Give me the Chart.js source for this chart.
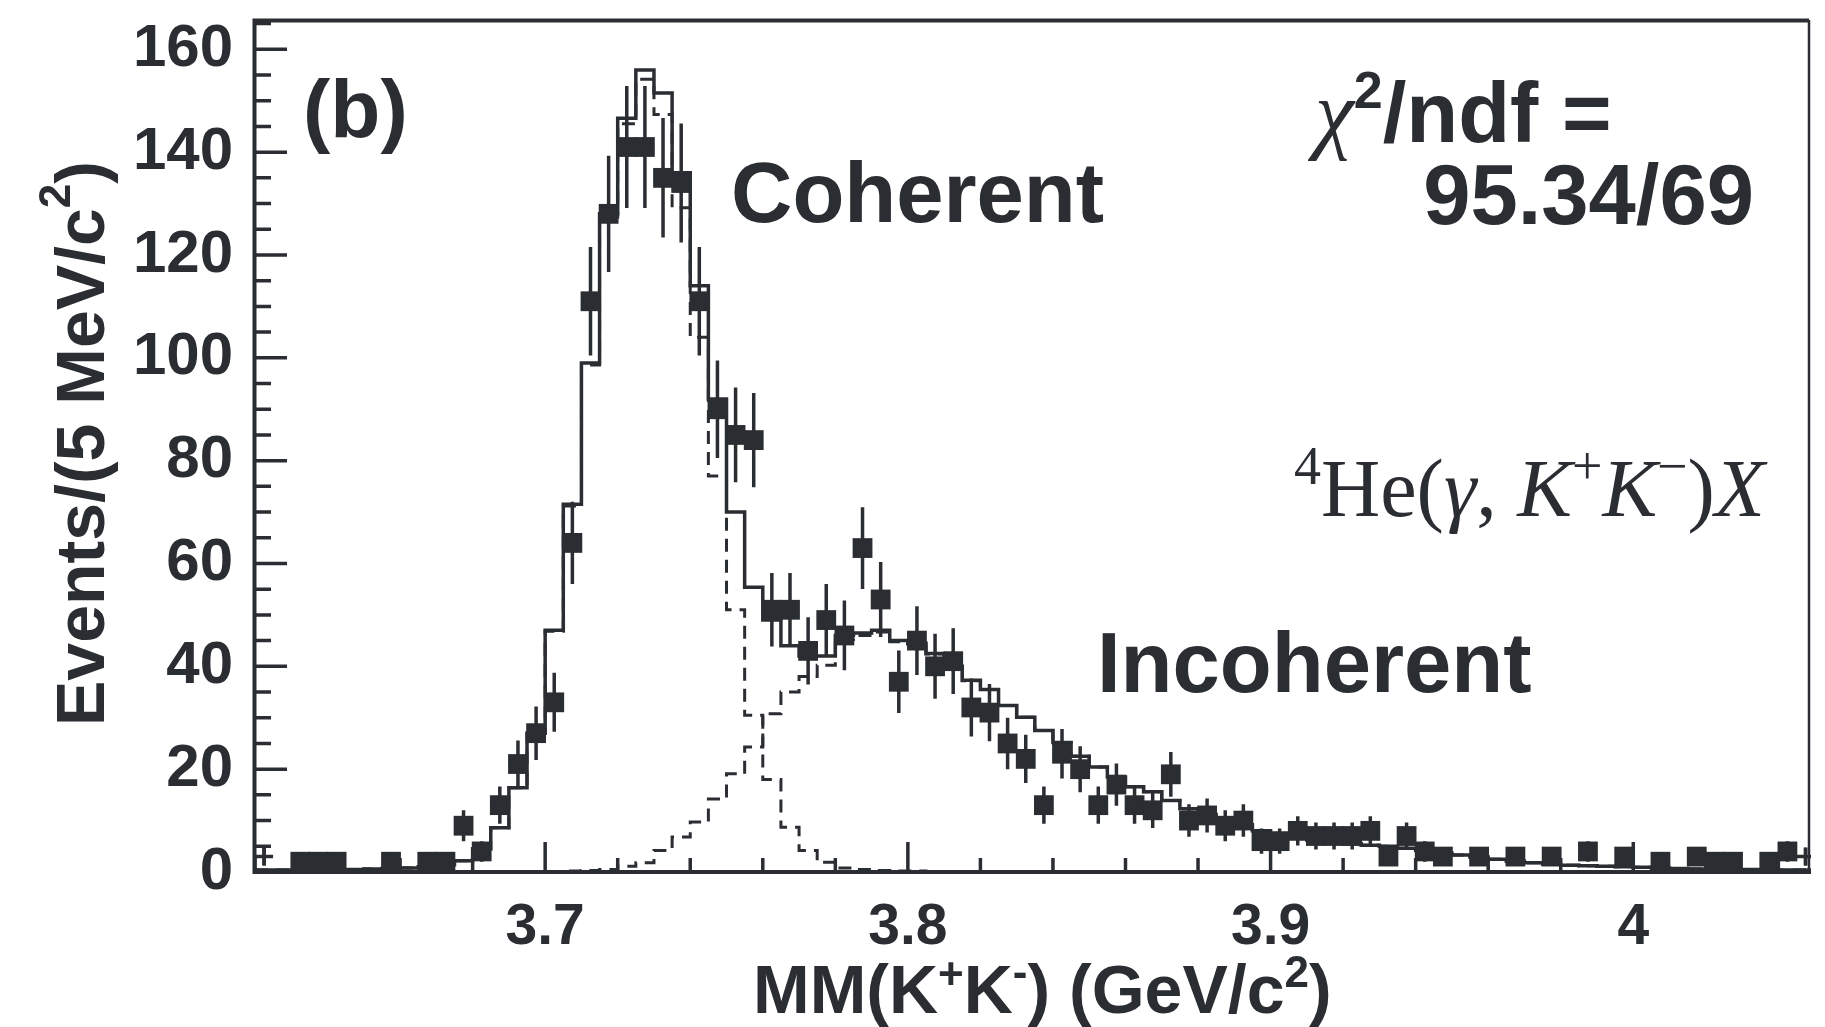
<!DOCTYPE html>
<html>
<head>
<meta charset="utf-8">
<script src="https://cdn.jsdelivr.net/npm/chart.js@4.4.1/dist/chart.umd.min.js"></script>
<style>
  html, body { margin: 0; padding: 0; background: #ffffff; }
  #wrap { width: 1825px; height: 1027px; position: relative; }
  canvas { display: block; }
</style>
</head>
<body>
<div id="wrap"><canvas id="chart" width="1825" height="1027"></canvas></div>
<script>
// ---------------- data ----------------
// lower edges of the 5 MeV/c^2 bins, GeV/c^2
const binLowEdges = [
  3.620,3.625,3.630,3.635,3.640,3.645,3.650,3.655,3.660,3.665,
  3.670,3.675,3.680,3.685,3.690,3.695,3.700,3.705,3.710,3.715,
  3.720,3.725,3.730,3.735,3.740,3.745,3.750,3.755,3.760,3.765,
  3.770,3.775,3.780,3.785,3.790,3.795,3.800,3.805,3.810,3.815,
  3.820,3.825,3.830,3.835,3.840,3.845,3.850,3.855,3.860,3.865,
  3.870,3.875,3.880,3.885,3.890,3.895,3.900,3.905,3.910,3.915,
  3.920,3.925,3.930,3.935,3.940,3.945,3.950,3.955,3.960,3.965,
  3.970,3.975,3.980,3.985,3.990,3.995,4.000,4.005,4.010,4.015,
  4.020,4.025,4.030,4.035,4.040,4.045
];
const binWidth = 0.005;

// measured events per bin
const events = [
  3,0,2,2,2,0,0,2,0,2,
  2,9,4,13,21,27,33,64,111,128,
  141,141,135,134,111,90,85,84,51,51,
  43,49,46,63,53,37,45,40,41,32,
  31,25,22,13,23,20,13,17,13,12,
  19,10,11,9,10,6,6,8,7,7,
  7,8,3,7,4,3,0,3,0,3,
  0,3,0,4,0,3,0,2,0,3,
  2,2,0,2,4,3
];

// total fit (solid histogram)
const fitTotal = [
  0.4,0.4,0.4,0.5,0.5,0.5,0.6,0.7,0.8,1.0,
  1.4,2.2,4.5,8.6,16.4,27,47,71.5,99,128,
  146.6,156,151.5,136,114,92,70,55.4,49,44,
  42,42,46,46.5,47,45,44.5,42.5,40,37.3,
  35.5,32.4,30.1,27.5,25.2,22.5,20.4,18.5,16.6,15.6,
  13.9,12.3,11.2,10.2,9.2,8,7.2,6.6,6.2,5.8,
  5.5,5.2,5.0,4.6,4.2,3.7,3.3,2.9,2.5,2.1,
  1.8,1.5,1.3,1.2,1.1,1.0,0.9,0.8,0.7,0.6,
  0.6,0.5,0.5,0.4,0.4,0.4
];

// coherent component (dashed)
const fitCoherent = [
  0.4,0.4,0.4,0.5,0.5,0.5,0.6,0.7,0.8,1.0,
  1.4,2.2,4.5,8.6,16.4,27,46.8,71.2,98.6,127.4,
  145.5,154.2,147.3,129.2,104,77,51,30.5,18,8.7,
  4.2,1.9,0.8,0.5,0.3,0.2,0.2,0.1,0.1,0.1,
  0,0,0,0,0,0,0,0,0,0,
  0,0,0,0,0,0,0,0,0,0,
  0,0,0,0,0,0,0,0,0,0,
  0,0,0,0,0,0,0,0,0,0,
  0,0,0,0,0,0
];

// incoherent component (dashed)
const fitIncoherent = [
  0,0,0,0,0,0,0,0,0,0,
  0,0,0,0,0,0,0.1,0.2,0.3,0.5,
  1.1,1.8,4.2,6.8,9.7,14.2,19.1,24.3,30.8,35,
  38,40.2,45.2,46,46.7,44.8,44.3,42.4,39.9,37.2,
  35.5,32.4,30.1,27.5,25.2,22.5,20.4,18.5,16.6,15.6,
  13.9,12.3,11.2,10.2,9.2,8,7.2,6.6,6.2,5.8,
  5.5,5.2,5.0,4.6,4.2,3.7,3.3,2.9,2.5,2.1,
  1.8,1.5,1.3,1.2,1.1,1.0,0.9,0.8,0.7,0.6,
  0.6,0.5,0.5,0.4,0.4,0.4
];

// axes
const xRange = [3.62, 4.049];
const yRange = [0, 165.7];
const xMajorStep = 0.1, xMinorStep = 0.02;
const yMajorStep = 20, yMinorStep = 5;

// texts
const yTitle = ['Events/(5 MeV/c', '2', ')'];
const xTitle = ['MM(K', '+', 'K', '-', ') (GeV/c', '2', ')'];
const panelLabel = '(b)';
const coherentLabel = 'Coherent';
const incoherentLabel = 'Incoherent';
const chi2Text = ['χ', '2', '/ndf ='];
const chi2Value = '95.34/69';

// ---------------- drawing ----------------
const INK = '#2a2d32';
const SANS = "'Liberation Sans', Arial, Helvetica, sans-serif";
const SERIF = "'Liberation Serif', 'Times New Roman', serif";

function stepPoints(vals) {
  const pts = binLowEdges.map((x, i) => ({ x: x, y: vals[i] }));
  pts.push({ x: binLowEdges[binLowEdges.length - 1] + binWidth, y: vals[vals.length - 1] });
  return pts;
}
const eventPoints = binLowEdges.map((x, i) => ({ x: x + binWidth / 2, y: events[i] }));
const isEdgeBin = (i) => i === 0 || i === events.length - 1;

function drawRich(ctx, x, y, parts) {
  let cx = x;
  for (const p of parts) {
    ctx.font = p.font;
    ctx.fillText(p.t, cx, y - (p.dy || 0));
    cx += ctx.measureText(p.t).width + (p.kern || 0);
  }
}

const errorBars = {
  id: 'errorBars',
  afterDatasetsDraw(chart) {
    const { ctx, chartArea: a, scales: { x, y } } = chart;
    ctx.save();
    ctx.beginPath();
    ctx.rect(a.left, a.top, a.right - a.left, a.bottom - a.top);
    ctx.clip();
    ctx.strokeStyle = INK;
    ctx.lineWidth = 3.5;
    ctx.beginPath();
    eventPoints.forEach((p) => {
      if (p.y <= 0) return;
      const e = Math.sqrt(p.y);
      const px = x.getPixelForValue(p.x);
      ctx.moveTo(px, y.getPixelForValue(p.y - e));
      ctx.lineTo(px, y.getPixelForValue(p.y + e));
    });
    ctx.stroke();
    ctx.restore();
  }
};

const frameAndText = {
  id: 'frameAndText',
  afterDraw(chart) {
    const { ctx, chartArea: a, scales: { x, y } } = chart;
    ctx.save();
    ctx.strokeStyle = INK;
    ctx.fillStyle = INK;
    // tick marks (inside)
    ctx.lineWidth = 3.5;
    ctx.beginPath();
    for (let k = 0; yRange[0] + k * yMinorStep <= yRange[1] + 1e-9; k++) {
      const v = yRange[0] + k * yMinorStep;
      const py = y.getPixelForValue(v);
      const len = (Math.abs(v / yMajorStep - Math.round(v / yMajorStep)) < 1e-6) ? 32 : 16;
      ctx.moveTo(a.left, py);
      ctx.lineTo(a.left + len, py);
    }
    for (let k = 0; xRange[0] + k * xMinorStep <= xRange[1] + 1e-9; k++) {
      const v = xRange[0] + k * xMinorStep;
      const px = x.getPixelForValue(v);
      const len = (Math.abs(v / xMajorStep - Math.round(v / xMajorStep)) < 1e-6) ? 30 : 14;
      ctx.moveTo(px, a.bottom);
      ctx.lineTo(px, a.bottom - len);
    }
    ctx.stroke();
    // frame
    ctx.lineWidth = 4;
    ctx.beginPath();
    ctx.moveTo(a.right - 2, a.top + 0.5);
    ctx.lineTo(a.left - 0.5, a.top + 0.5);
    ctx.lineTo(a.left - 0.5, a.bottom);
    ctx.lineTo(a.right, a.bottom);
    ctx.stroke();
    ctx.lineWidth = 2.5;
    ctx.beginPath();
    ctx.moveTo(a.right - 2, a.top);
    ctx.lineTo(a.right - 2, a.bottom);
    ctx.stroke();

    // texts
    ctx.textBaseline = 'alphabetic';
    ctx.textAlign = 'left';
    ctx.font = `bold 82px ${SANS}`;
    ctx.fillText(panelLabel, 303, 137);
    ctx.font = `bold 85px ${SANS}`;
    ctx.fillText(coherentLabel, 731, 222);
    ctx.fillText(incoherentLabel, 1097, 692);
    drawRich(ctx, 1315, 142, [
      { t: chi2Text[0], font: `italic 88px ${SERIF}` },
      { t: chi2Text[1], font: `bold 52px ${SANS}`, dy: 34 },
      { t: chi2Text[2], font: `bold 85px ${SANS}` }
    ]);
    ctx.textAlign = 'right';
    ctx.font = `bold 85px ${SANS}`;
    ctx.fillText(chi2Value, 1754, 224);
    ctx.textAlign = 'left';

    // reaction label
    drawRich(ctx, 1294, 516, [
      { t: '4', font: `54px ${SERIF}`, dy: 32 },
      { t: 'He(', font: `82px ${SERIF}` },
      { t: 'γ', font: `italic 82px ${SERIF}` },
      { t: ', ', font: `82px ${SERIF}` },
      { t: 'K', font: `italic 82px ${SERIF}` },
      { t: '+', font: `54px ${SERIF}`, dy: 32 },
      { t: 'K', font: `italic 82px ${SERIF}` },
      { t: '−', font: `54px ${SERIF}`, dy: 32 },
      { t: ')', font: `82px ${SERIF}` },
      { t: 'X', font: `italic 82px ${SERIF}` }
    ]);

    // axis titles
    const big = `bold 68px ${SANS}`, sup = `bold 44px ${SANS}`;
    drawRich(ctx, 753, 1013, [
      { t: xTitle[0], font: big },
      { t: xTitle[1], font: sup, dy: 24 },
      { t: xTitle[2], font: big },
      { t: xTitle[3], font: sup, dy: 26 },
      { t: xTitle[4], font: big },
      { t: xTitle[5], font: sup, dy: 26 },
      { t: xTitle[6], font: big }
    ]);
    ctx.save();
    ctx.translate(104, 726);
    ctx.rotate(-Math.PI / 2);
    drawRich(ctx, 0, 0, [
      { t: yTitle[0], font: big },
      { t: yTitle[1], font: sup, dy: 34 },
      { t: yTitle[2], font: big }
    ]);
    ctx.restore();
    ctx.restore();
  }
};

const stepStyle = {
  showLine: true, stepped: 'before', pointRadius: 0, borderColor: INK,
  backgroundColor: 'transparent', fill: false, tension: 0
};

new Chart(document.getElementById('chart'), {
  type: 'scatter',
  data: {
    datasets: [
      Object.assign({ label: 'Incoherent', data: stepPoints(fitIncoherent), borderWidth: 3, borderDash: [13, 8], order: 4 }, stepStyle),
      Object.assign({ label: 'Coherent', data: stepPoints(fitCoherent), borderWidth: 3, borderDash: [13, 8], order: 3 }, stepStyle),
      Object.assign({ label: 'Fit', data: stepPoints(fitTotal), borderWidth: 3.5, order: 2 }, stepStyle),
      {
        label: 'Data', data: eventPoints, showLine: false, order: 1,
        pointStyle: (c) => isEdgeBin(c.dataIndex) ? 'cross' : 'rect',
        pointRadius: (c) => (c.raw && c.raw.y > 0) ? (isEdgeBin(c.dataIndex) ? 9 : 14) : 0,
        pointBorderWidth: (c) => isEdgeBin(c.dataIndex) ? 3.5 : 0,
        pointBackgroundColor: INK, pointBorderColor: INK
      }
    ]
  },
  options: {
    responsive: false, animation: false, devicePixelRatio: 1, events: [],
    layout: { padding: { top: 20, right: 0, left: 0, bottom: 0 } },
    plugins: { legend: { display: false }, tooltip: { enabled: false } },
    scales: {
      x: {
        type: 'linear', min: xRange[0], max: xRange[1],
        grid: { display: false }, border: { display: false },
        ticks: {
          stepSize: xMajorStep, includeBounds: false, maxRotation: 0, minRotation: 0,
          color: INK, padding: 14, font: { family: SANS, size: 57, weight: 'bold' },
          callback: (v) => { const r = Math.round(v * 10) / 10; return Number.isInteger(r) ? r.toFixed(0) : r.toFixed(1); }
        },
        afterFit: (s) => { s.height = 155; s.paddingLeft = 0; s.paddingRight = 0; }
      },
      y: {
        type: 'linear', min: yRange[0], max: yRange[1],
        grid: { display: false }, border: { display: false },
        ticks: {
          stepSize: yMajorStep, includeBounds: false, color: INK, padding: 14,
          font: { family: SANS, size: 60, weight: 'bold' }
        },
        afterFit: (s) => { s.width = 255; s.paddingTop = 0; s.paddingBottom = 0; }
      }
    }
  },
  plugins: [errorBars, frameAndText]
});
</script>
</body>
</html>
